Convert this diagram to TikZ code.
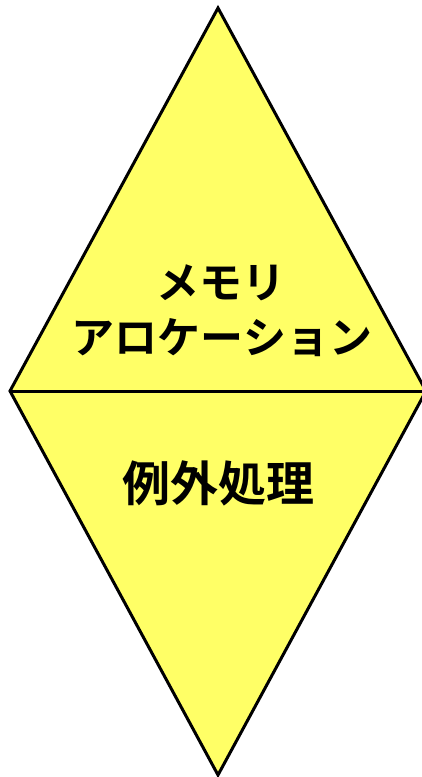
\documentclass[tikz,border=0pt]{standalone}
\usepackage{fontspec}
\newfontfamily\jpfont{Noto Sans CJK JP}[BoldFont={* Bold}]
\definecolor{fillyellow}{HTML}{FFFF66}
\begin{document}
\begin{tikzpicture}[x=1pt,y=-1pt,
  edge/.style={draw=black,line width=3pt,line join=miter},
  lbl/.style={font=\jpfont\bfseries,align=center,inner sep=0pt}]
\useasboundingbox (0,0) rectangle (421,777);
\coordinate (top) at (218,8);
\coordinate (left) at (10,391);
\coordinate (right) at (426,391);
\coordinate (bottom) at (218,775);
\fill[fillyellow] (top) -- (right) -- (bottom) -- (left) -- cycle;
\draw[edge] (top) -- (right) -- (bottom) -- (left) -- cycle;
\draw[edge] (left) -- (right);
\node[lbl,font=\jpfont\bfseries\fontsize{43}{43}\selectfont] (t1) at (221,283) {メモリ};
\node[lbl,font=\jpfont\bfseries\fontsize{43}{43}\selectfont] (t2) at (222,338) {アロケーション};
\node[lbl,font=\jpfont\bfseries\fontsize{48}{48}\selectfont] (t3) at (218,483) {例外処理};
\end{tikzpicture}
\end{document}
